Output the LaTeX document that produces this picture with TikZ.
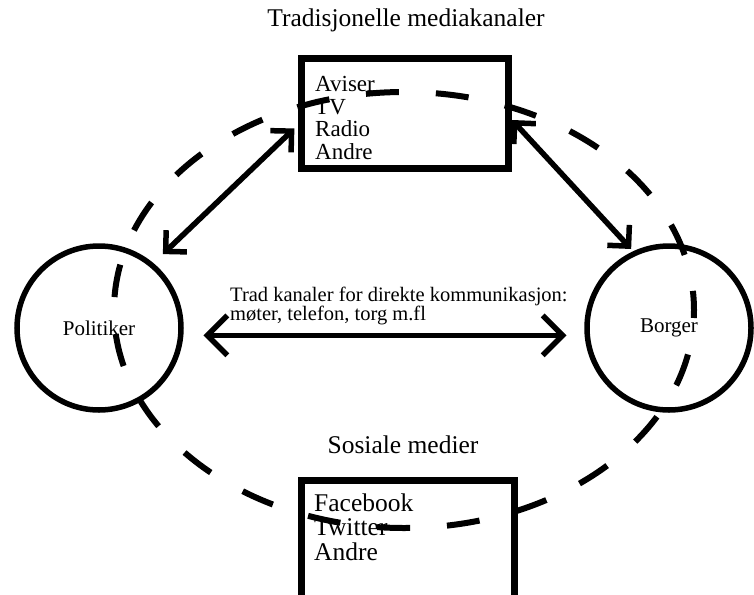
\documentclass[tikz,border=0pt]{standalone}
\usepackage{fontspec}
\setmainfont{Liberation Serif}
\usetikzlibrary{arrows.meta}
\begin{document}
\begin{tikzpicture}[x=1pt,y=-1pt,
  hdr/.style={font=\fontsize{25.5}{30}\selectfont,anchor=base,inner sep=0pt},
  person/.style={circle,draw,line width=5.5pt,minimum size=164pt,inner sep=0pt,
    font=\fontsize{21}{24}\selectfont},
  medbox/.style={draw,line width=7pt,inner sep=0pt},
  list/.style={align=left,anchor=north west,inner sep=0pt},
  dbl/.style={line width=5.5pt,{Straight Barb[length=#1,width=2*#1]}-{Straight Barb[length=#1,width=2*#1]}},
  loop/.style={line width=6pt,dash pattern=on 33pt off 37pt,dash phase=25pt}]
\clip (0,0) rectangle (754,594);
\draw[loop] (404,310) ellipse [x radius=290, y radius=218];
\node[hdr] (tradhdr) at (406,27) {Tradisjonelle mediakanaler};
\node[medbox,minimum width=207pt,minimum height=110pt] (trad) at (405,113.5) {};
\node[list,font=\fontsize{23}{22.5}\selectfont] (tradlist) at (315,76.5) {Aviser\\TV\\Radio\\Andre};
\node[person] (pol) at (99,328) {Politiker};
\node[person] (bor) at (669,328) {Borger};
\node[list,font=\fontsize{20.5}{16.5}\selectfont] (direkte) at (230,286.5)
  {Trad kanaler for direkte kommunikasjon:\\m\o ter, telefon, torg m.fl};
\node[hdr] (soshdr) at (403,453) {Sosiale medier};
\node[medbox,minimum width=213pt,minimum height=140pt] (sos) at (408,550.5) {};
\node[list,font=\fontsize{25.5}{24.3}\selectfont] (soslist) at (314,493.5) {Facebook\\Twitter\\Andre};
\draw[dbl=15pt,shorten <=13pt,shorten >=5pt] (pol.50) -- ([yshift=-11.5pt]trad.west);
\draw[dbl=15pt,shorten >=3pt] ([yshift=-6.5pt]trad.east) -- (bor.115);
\draw[dbl=20pt,shorten <=20pt,shorten >=18pt] (pol.-5) -- (bor.185);
\end{tikzpicture}
\end{document}
